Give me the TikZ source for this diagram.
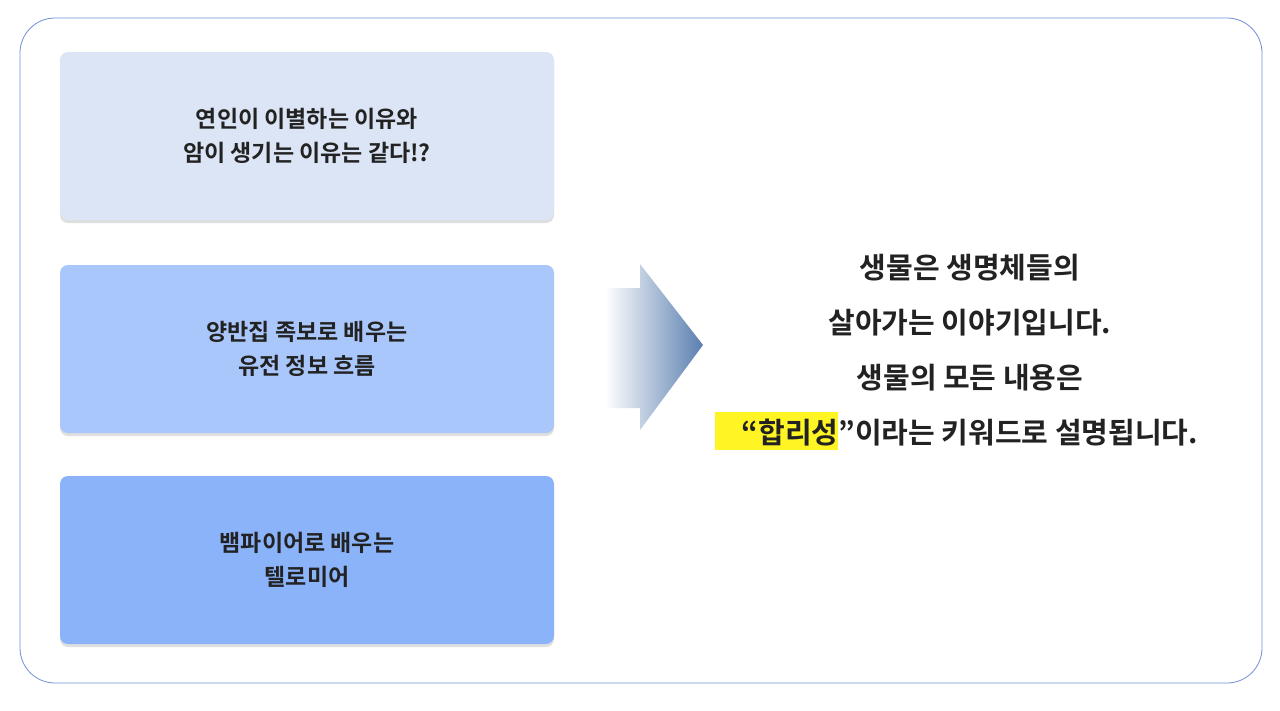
\documentclass[tikz,border=0pt]{standalone}
\usepackage{fontspec}
\setmainfont{Noto Sans CJK KR}[BoldFont={Noto Sans CJK KR Bold}]
\usetikzlibrary{shadows,fadings}
\definecolor{frameblue}{HTML}{6F8FD8}
\definecolor{boxA}{HTML}{DCE5F5}
\definecolor{boxB}{HTML}{AAC7FC}
\definecolor{boxC}{HTML}{8BB3F9}
\definecolor{arrowblue}{HTML}{5A7FAF}
\definecolor{hl}{HTML}{FFF524}
\definecolor{ink}{HTML}{222222}
\tikzset{
  topicbox/.style={rounded corners=8pt, minimum width=494pt, minimum height=168pt,
    draw=none, drop shadow={shadow xshift=0pt, shadow yshift=-3pt, opacity=0.25},
    align=center, font=\fontsize{23}{34}\selectfont\bfseries, text=ink},
  keytext/.style={align=center, font=\fontsize{29}{55}\selectfont\bfseries, text=ink}
}
\begin{document}
\begin{tikzpicture}[x=1pt,y=-1pt]
  \useasboundingbox (0,0) rectangle (1280,710);
  \fill[white] (0,0) rectangle (1280,710);
  % outer frame
  \draw[frameblue, line width=0.8pt, rounded corners=35pt] (20,18) rectangle (1262,683);
  % topic boxes
  \node[topicbox, fill=boxA] (topicA) at (307,136) {연인이 이별하는 이유와\\암이 생기는 이유는 같다!?};
  \node[topicbox, fill=boxB] (topicB) at (307,349) {양반집 족보로 배우는\\유전 정보 흐름};
  \node[topicbox, fill=boxC] (topicC) at (307,560) {뱀파이어로 배우는\\텔로미어};
  % arrow
  \shade[left color=white, right color=arrowblue]
    (605,288) -- (640,288) -- (640,264) -- (703,345) -- (640,430) -- (640,408) -- (605,408) -- cycle;
  % key message
  \fill[hl] (715,412) rectangle (838,450);
  \node[keytext, anchor=center] (msg) at (970,350)
    {생물은 생명체들의\\살아가는 이야기입니다.\\생물의 모든 내용은\\“합리성”이라는 키워드로 설명됩니다.};
\end{tikzpicture}
\end{document}
